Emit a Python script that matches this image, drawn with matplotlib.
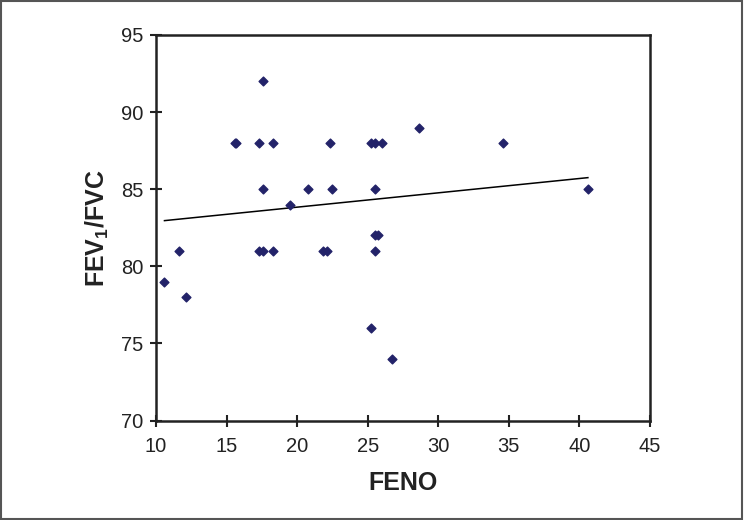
import numpy as np
import matplotlib.pyplot as plt
from matplotlib.patches import Rectangle

plt.rcParams['font.family'] = ['Liberation Sans', 'DejaVu Sans']
plt.rcParams['mathtext.fontset'] = 'custom'
plt.rcParams['mathtext.rm'] = 'Liberation Sans'
plt.rcParams['mathtext.bf'] = 'Liberation Sans:bold'

# FENO vs FEV1/FVC values
feno = [17.6, 15.6, 15.7, 17.3, 18.3, 22.3, 25.2, 25.5, 26.0, 34.6, 28.6,
        17.6, 20.8, 22.5, 25.5, 19.5, 40.6,
        25.5, 25.7, 11.6, 17.3, 17.6, 18.3, 21.8, 22.1, 25.5,
        10.6, 12.1, 25.2, 26.7]
fev_fvc = [92, 88, 88, 88, 88, 88, 88, 88, 88, 88, 89,
           85, 85, 85, 85, 84, 85,
           82, 82, 81, 81, 81, 81, 81, 81, 81,
           79, 78, 76, 74]

fig = plt.figure(figsize=(7.44, 5.2), dpi=100)
ax = fig.add_axes([156 / 744, 1 - 420.5 / 520, 494 / 744, 385.5 / 520])

ax.scatter(feno, fev_fvc, marker='D', s=20, color='#232369', zorder=3)

# linear trend line over the data range
slope, intercept = np.polyfit(feno, fev_fvc, 1)
xs = np.array([min(feno), max(feno)])
ax.plot(xs, slope * xs + intercept, color='black', linewidth=1.1)

ax.set_xlim(10, 45)
ax.set_ylim(70, 95)
ax.set_xticks(range(10, 46, 5))
ax.set_yticks(range(70, 96, 5))
ax.tick_params(direction='inout', length=8, width=1.5, labelsize=14.5,
               colors='#222222')
ax.tick_params(axis='x', pad=8)
ax.tick_params(axis='y', pad=5)
for s in ax.spines.values():
    s.set_linewidth(1.8)
    s.set_color('#222222')

ax.set_xlabel('FENO', fontsize=18, fontweight='bold', color='#222222', labelpad=11)
ax.set_ylabel('FEV$_\\mathbf{1}$/FVC', fontsize=18, fontweight='bold',
              color='#222222', labelpad=7)

# outer frame of the picture
fig.patches.append(Rectangle((0.001, 0.002), 0.996, 0.996, transform=fig.transFigure,
                             fill=False, edgecolor='#555555', linewidth=1.5))

fig.savefig('out.png', dpi=100)
